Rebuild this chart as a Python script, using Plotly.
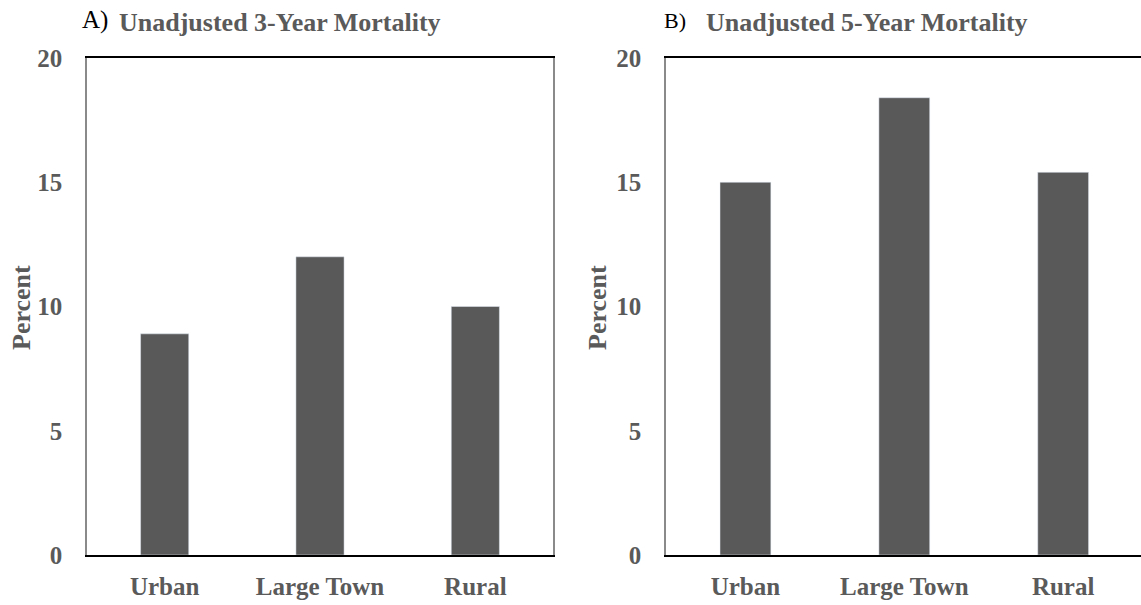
import plotly.graph_objects as go

categories = ["Urban", "Large Town", "Rural"]
mortality_3yr = [8.9, 12.0, 10.0]
mortality_5yr = [15.0, 18.4, 15.4]
y_ticks = [0, 5, 10, 15, 20]

W, H = 1141, 605
BAR = "#595959"
TXT = "#5a5a5a"
FONT = "Liberation Serif"

def px_x(p):
    return p / W

def px_y(p):
    return 1 - p / H

fig = go.Figure()
fig.add_trace(go.Bar(x=categories, y=mortality_3yr, marker_color=BAR, width=0.31,
                     xaxis="x", yaxis="y", showlegend=False))
fig.add_trace(go.Bar(x=categories, y=mortality_5yr, marker_color=BAR, width=0.32,
                     xaxis="x2", yaxis="y2", showlegend=False))

ydom = [px_y(555), px_y(58)]
tickfont = dict(family=FONT, size=25, color=TXT)

common_x = dict(type="category", range=[-0.5, 2.5], showgrid=False, showline=True,
                linecolor="black", linewidth=1.5, mirror=True, ticks="outside",
                ticklen=8, tickcolor="rgba(0,0,0,0)", tickfont=tickfont, fixedrange=True,
                automargin=False,
                tickvals=categories, ticktext=[f"<b>{c}</b>" for c in categories])
common_y = dict(range=[0, 20], tickvals=y_ticks, ticktext=[f"<b>{v}</b>" for v in y_ticks],
                showgrid=False, zeroline=False, automargin=False,
                showline=True, linecolor="#8a8a8a", linewidth=1.5, ticks="outside",
                ticklen=18, tickcolor="rgba(0,0,0,0)", tickfont=tickfont, fixedrange=True)

fig.update_layout(
    width=W, height=H,
    margin=dict(l=0, r=0, t=0, b=0, autoexpand=False),
    paper_bgcolor="white", plot_bgcolor="white",
    xaxis=dict(domain=[px_x(87), px_x(553)], anchor="y", **common_x),
    yaxis=dict(domain=ydom, anchor="x", mirror=True, **common_y),
    xaxis2=dict(domain=[px_x(666), 1.0], anchor="y2", **{**common_x, "range": [-0.5, 2.49]}),
    yaxis2=dict(domain=ydom, anchor="x2", mirror=False, **common_y),
)

ann = []
ann.append(dict(text="A)", x=px_x(80), y=px_y(20), xref="paper", yref="paper",
                xanchor="left", yanchor="middle", showarrow=False,
                font=dict(family=FONT, size=25, color="black")))
ann.append(dict(text="<b>Unadjusted 3-Year Mortality</b>", x=px_x(117), y=px_y(22),
                xref="paper", yref="paper", xanchor="left", yanchor="middle",
                showarrow=False, font=dict(family=FONT, size=26, color=TXT)))
ann.append(dict(text="B)", x=px_x(662), y=px_y(20), xref="paper", yref="paper",
                xanchor="left", yanchor="middle", showarrow=False,
                font=dict(family=FONT, size=22, color="black")))
ann.append(dict(text="<b>Unadjusted 5-Year Mortality</b>", x=px_x(704), y=px_y(23),
                xref="paper", yref="paper", xanchor="left", yanchor="middle",
                showarrow=False, font=dict(family=FONT, size=26, color=TXT)))
for xc in (22, 598):
    ann.append(dict(text="<b>Percent</b>", x=px_x(xc), y=px_y(308), xref="paper",
                    yref="paper", xanchor="center", yanchor="middle", textangle=-90,
                    showarrow=False, font=dict(family=FONT, size=26, color=TXT)))
fig.update_layout(annotations=ann)

fig.write_html("out.html", config={"displayModeBar": False},
               post_script="document.body.style.margin='0';document.body.style.overflow='hidden';")
